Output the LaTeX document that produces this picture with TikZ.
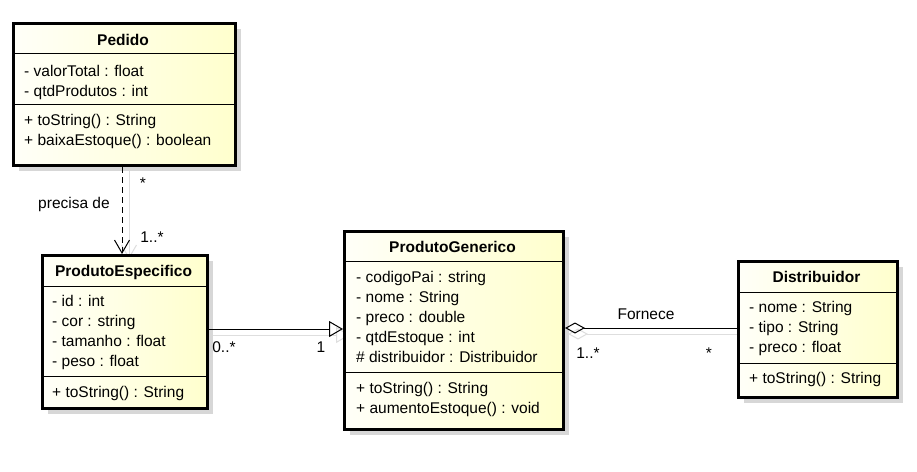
\documentclass[tikz,border=0pt]{standalone}
\usepackage{fontspec}
\setmainfont{Liberation Sans}
\usetikzlibrary{arrows.meta,shadows,calc}
\definecolor{fillA}{RGB}{255,255,248}
\definecolor{fillB}{RGB}{255,255,205}
\definecolor{shd}{RGB}{215,215,215}
\definecolor{cshd}{RGB}{222,222,222}
\begin{document}
\begin{tikzpicture}[x=1pt,y=-1pt,
  cls/.style={draw=black, line width=3pt, left color=fillA, right color=fillB, inner sep=0pt, anchor=north west,
    drop shadow={shadow xshift=5pt, shadow yshift=-5pt, fill=shd, opacity=1}},
  sep/.style={line width=1pt, draw=black},
  txt/.style={anchor=base west, inner sep=0pt, font=\fontsize{15.5}{18}\selectfont},
  ttl/.style={anchor=base, inner sep=0pt, font=\fontsize{15.5}{18}\selectfont\bfseries},
  lbl/.style={anchor=base, inner sep=0pt, font=\fontsize{15.5}{18}\selectfont},
  dep/.style={line width=1pt, dash pattern=on 6pt off 4pt, -{Straight Barb[length=13pt,width=15pt]}},
  gen/.style={line width=1pt, -{Triangle[open,length=14pt,width=16pt]}},
  agg/.style={line width=1pt, {Diamond[open,length=20pt,width=11pt]}-},
  cshadow/.style={line width=1pt, draw=cshd},
]
\fill[white] (0,0) rectangle (917,471);
\useasboundingbox (0,0) rectangle (917,471);

% connector shadows
\coordinate (s1a) at (129,168);
\coordinate (s1b) at (129,259);
\draw[cshadow, -{Straight Barb[length=13pt,width=15pt]}] (s1a) -- (s1b);
\coordinate (s2a) at (212,335);
\coordinate (s2b) at (350,335);
\draw[cshadow, -{Triangle[open,length=14pt,width=16pt]}] (s2a) -- (s2b);
\coordinate (s3a) at (568,334);
\coordinate (s3b) at (743,334);
\draw[cshadow, {Diamond[open,length=20pt,width=11pt]}-] (s3a) -- (s3b);

% Pedido
\node[cls, minimum width=222pt, minimum height=142pt] (ped) at (12,22) {};
\node[ttl] (ped-t) at (123,45) {Pedido};
\draw[sep] (ped.west |- 0,53) -- (ped.east |- 0,53);
\node[txt] (ped-a1) at (24,76) {- valorTotal : float};
\node[txt] (ped-a2) at (24,96) {- qtdProdutos : int};
\draw[sep] (ped.west |- 0,104) -- (ped.east |- 0,104);
\node[txt] (ped-m1) at (24,125) {+ toString() : String};
\node[txt] (ped-m2) at (24,145) {+ baixaEstoque() : boolean};

% ProdutoEspecifico
\node[cls, minimum width=165pt, minimum height=153pt] (pe) at (41,254) {};
\node[ttl] (pe-t) at (123.5,276) {ProdutoEspecifico};
\draw[sep] (pe.west |- 0,286) -- (pe.east |- 0,286);
\node[txt] (pe-a1) at (52,306) {- id : int};
\node[txt] (pe-a2) at (52,326) {- cor : string};
\node[txt] (pe-a3) at (52,346) {- tamanho : float};
\node[txt] (pe-a4) at (52,366) {- peso : float};
\draw[sep] (pe.west |- 0,376) -- (pe.east |- 0,376);
\node[txt] (pe-m1) at (52,397) {+ toString() : String};

% ProdutoGenerico
\node[cls, minimum width=219pt, minimum height=198pt] (pg) at (343,230) {};
\node[ttl] (pg-t) at (452.5,252) {ProdutoGenerico};
\draw[sep] (pg.west |- 0,261) -- (pg.east |- 0,261);
\node[txt] (pg-a1) at (356,282) {- codigoPai : string};
\node[txt] (pg-a2) at (356,302) {- nome : String};
\node[txt] (pg-a3) at (356,322) {- preco : double};
\node[txt] (pg-a4) at (356,342) {- qtdEstoque : int};
\node[txt] (pg-a5) at (356,362) {\# distribuidor : Distribuidor};
\draw[sep] (pg.west |- 0,372) -- (pg.east |- 0,372);
\node[txt] (pg-m1) at (356,393) {+ toString() : String};
\node[txt] (pg-m2) at (356,413) {+ aumentoEstoque() : void};

% Distribuidor
\node[cls, minimum width=159pt, minimum height=136pt] (dist) at (737,260) {};
\node[ttl] (dist-t) at (816.5,282) {Distribuidor};
\draw[sep] (dist.west |- 0,292) -- (dist.east |- 0,292);
\node[txt] (dist-a1) at (749,312) {- nome : String};
\node[txt] (dist-a2) at (749,332) {- tipo : String};
\node[txt] (dist-a3) at (749,352) {- preco : float};
\draw[sep] (dist.west |- 0,363) -- (dist.east |- 0,363);
\node[txt] (dist-m1) at (749,383) {+ toString() : String};

% connectors
\draw[dep] (ped.south -| 122,0) -- (pe.north -| 122,0);
\draw[gen] (pe.east |- 0,329) -- (pg.west |- 0,329);
\draw[agg] (pg.east |- 0,328) -- (dist.west |- 0,328);

% labels
\node[lbl] (l1) at (74,208) {precisa de};
\node[lbl] (l2) at (143,188) {*};
\node[lbl] (l3) at (152,242) {1..*};
\node[lbl] (l4) at (224,352) {0..*};
\node[lbl] (l5) at (321,352) {1};
\node[lbl] (l6) at (646,319) {Fornece};
\node[lbl] (l7) at (588,358) {1..*};
\node[lbl] (l8) at (709,358) {*};
\end{tikzpicture}
\end{document}
